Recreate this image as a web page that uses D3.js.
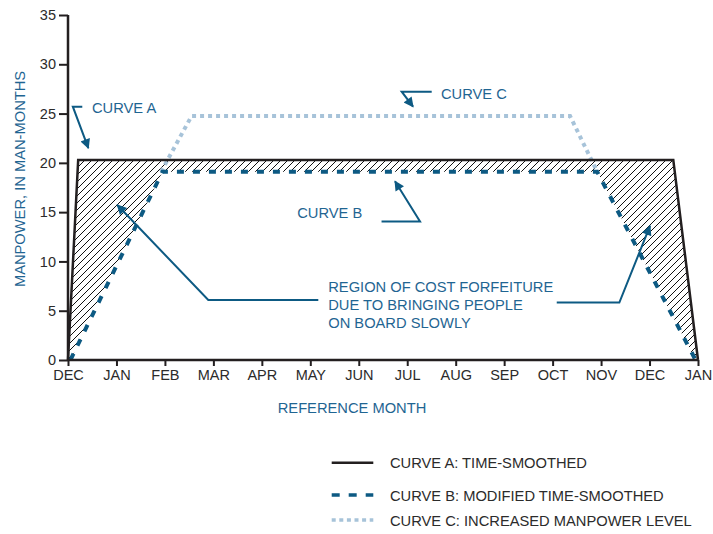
<!DOCTYPE html>
<html><head><meta charset="utf-8">
<script src="https://cdn.jsdelivr.net/npm/d3@7"></script>
<style>
body{margin:0;background:#fff;}
svg{display:block;font-family:"Liberation Sans",Arial,Helvetica,sans-serif;}
</style></head>
<body><svg id="c" width="713" height="534"></svg>
<script>
// ---- data ----
const months = ["DEC","JAN","FEB","MAR","APR","MAY","JUN","JUL","AUG","SEP","OCT","NOV","DEC","JAN"];
const yTicks = [0,5,10,15,20,25,30,35];
// [month index, man-months]
const curveA = [[0,0],[0.21,20.3],[12.49,20.3],[13,0]];
const curveB = [[0.05,0],[1.95,19.1],[10.92,19.1],[12.95,0]];
const curveC = [[1.92,19.1],[2.55,24.75],[10.36,24.75],[10.92,19.1]];
const legendItems = ["CURVE A: TIME-SMOOTHED","CURVE B: MODIFIED TIME-SMOOTHED","CURVE C: INCREASED MANPOWER LEVEL"];
const regionText = ["REGION OF COST FORFEITURE","DUE TO BRINGING PEOPLE","ON BOARD SLOWLY"];

const W=713,H=534;
const svg=d3.select("#c");
const x=d3.scaleLinear().domain([0,13]).range([68,698]);
const y=d3.scaleLinear().domain([0,35]).range([360,15]);

const axisCol="#231f20", txtCol="#2b2b2b", blue="#0d5a83", textBlue="#1f6592", light="#a7c3d9";
const FS=14.7;

// hatch pattern
const defs=svg.append("defs");
const pat=defs.append("pattern").attr("id","hatch").attr("patternUnits","userSpaceOnUse")
  .attr("width",7).attr("height",7);
pat.append("path").attr("d","M-1,8 L8,-1 M-4,4 L4,-4 M3,11 L11,3").attr("stroke","#111").attr("stroke-width",1);
const mk=defs.append("marker").attr("id","arr").attr("viewBox","0 0 10 10").attr("refX",9).attr("refY",5)
  .attr("markerWidth",12).attr("markerHeight",10).attr("markerUnits","userSpaceOnUse").attr("orient","auto");
mk.append("path").attr("d","M0,0 L10,5 L0,10 Z").attr("fill",blue);

const line=d3.line().x(d=>x(d[0])).y(d=>y(d[1]));

// hatch region between A and B
const region=curveA.concat(curveB.slice().reverse());
svg.append("path").attr("d",line(region)+"Z").attr("fill","url(#hatch)").attr("stroke","none");

// curves
svg.append("path").attr("d",line(curveC)).attr("fill","none").attr("stroke",light)
  .attr("stroke-width",4).attr("stroke-dasharray","4,4");
svg.append("path").attr("d",line(curveB)).attr("fill","none").attr("stroke",blue)
  .attr("stroke-width",4).attr("stroke-dasharray","7,9");
svg.append("path").attr("d",line(curveA)).attr("fill","none").attr("stroke",axisCol)
  .attr("stroke-width",2.5).attr("stroke-linejoin","miter");

// axes
const yAx=svg.append("g").attr("transform","translate(68,0)")
  .call(d3.axisLeft(y).tickValues(yTicks).tickSize(9).tickPadding(4));
const xAx=svg.append("g").attr("transform","translate(0,360)")
  .call(d3.axisBottom(x).tickValues(d3.range(months.length)).tickFormat(i=>months[i]).tickSize(6).tickPadding(4));
[yAx,xAx].forEach(g=>{
  g.select(".domain").attr("stroke",axisCol).attr("stroke-width",2.5);
  g.selectAll(".tick line").attr("stroke",axisCol).attr("stroke-width",2);
  g.selectAll(".tick text").attr("fill",txtCol).attr("font-size",14.5).attr("font-family","Liberation Sans, Arial, sans-serif");
});
xAx.select(".domain").attr("d","M68,0H698");
yAx.select(".domain").attr("d","M0,360V15");
yAx.selectAll(".tick text").attr("x",-12);

// axis titles
svg.append("text").attr("transform","translate(24.5,179) rotate(-90)").attr("text-anchor","middle")
  .attr("fill",textBlue).attr("font-size",FS).text("MANPOWER, IN MAN-MONTHS");
svg.append("text").attr("x",352).attr("y",413).attr("text-anchor","middle")
  .attr("fill",textBlue).attr("font-size",FS).text("REFERENCE MONTH");

// annotations (positions in data units)
const ann=(pts)=>svg.append("path").attr("d",line(pts)).attr("fill","none").attr("stroke",blue)
  .attr("stroke-width",2).attr("marker-end","url(#arr)");
ann([[0.295,25.7],[0.10,25.7],[0.42,21.5]]);
ann([[7.505,27.22],[6.886,27.22],[7.12,25.7]]);
ann([[6.47,14.05],[7.264,14.05],[6.748,18.13]]);
ann([[5.165,6.09],[2.895,6.09],[1.017,15.72]]);
ann([[10.085,5.83],[11.377,5.83],[12.01,13.6]]);

const label=(m,v,t)=>svg.append("text").attr("x",x(m)).attr("y",y(v)).attr("fill",textBlue).attr("font-size",FS).text(t);
label(0.495,25.05,"CURVE A");
label(7.696,26.48,"CURVE C");
label(4.73,14.4,"CURVE B");
regionText.forEach((t,i)=>label(5.37,6.9-i*1.82,t));

// legend
const lg=svg.append("g");
const lys=[462.7,495,520];
const styles=[{c:axisCol,d:null,w:2.5},{c:blue,d:"8,9",w:3.5},{c:light,d:"4,3.6",w:3.5}];
legendItems.forEach((t,i)=>{
  lg.append("line").attr("x1",331.7).attr("x2",373.3).attr("y1",lys[i]).attr("y2",lys[i])
    .attr("stroke",styles[i].c).attr("stroke-width",styles[i].w).attr("stroke-dasharray",styles[i].d);
  lg.append("text").attr("x",390).attr("y",lys[i]+5.5).attr("fill",txtCol).attr("font-size",FS).text(t);
});
</script></body></html>
